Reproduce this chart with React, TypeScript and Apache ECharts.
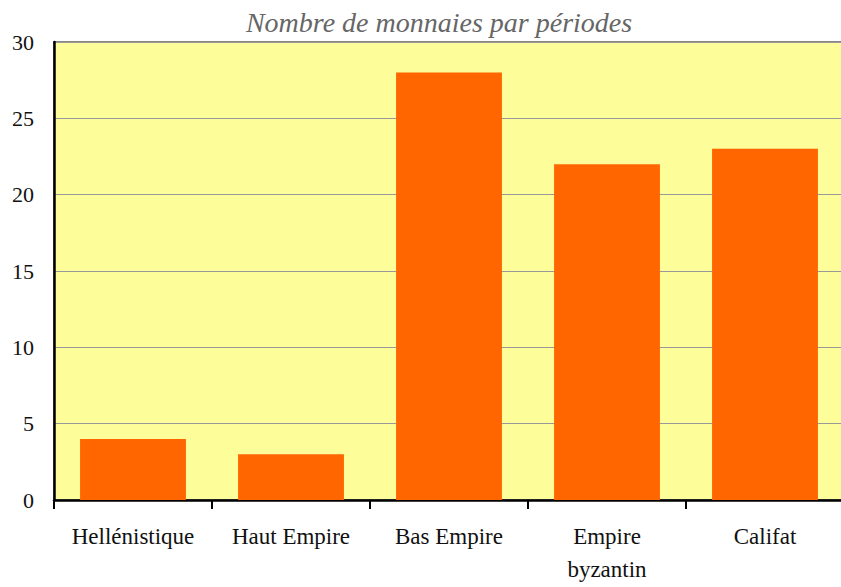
import React, { useEffect, useRef } from "react";
import * as echarts from "echarts";

const categories = ["Hellénistique", "Haut Empire", "Bas Empire", "Empire byzantin", "Califat"];
const values = [4, 3, 28, 22, 23];
const titleText = "Nombre de monnaies par périodes";

const FONT = "'Liberation Serif', 'DejaVu Serif', serif";

export default function App() {
  const ref = useRef<HTMLDivElement>(null);
  useEffect(() => {
    if (!ref.current) return;
    const chart = echarts.init(ref.current, null, { renderer: "svg" });
    chart.setOption({
      animation: false,
      title: {
        text: titleText,
        left: 434,
        top: 3,
        textAlign: "center",
        textStyle: {
          fontFamily: FONT,
          fontStyle: "italic",
          fontWeight: "normal",
          fontSize: 28,
          color: "#666666",
        },
      },
      grid: {
        left: 54,
        right: -3,
        top: 42,
        bottom: 87,
        outerBoundsMode: "none",
        containLabel: false,
        show: true,
        backgroundColor: "#FDFD99",
        borderColor: "#888888",
        borderWidth: 2,
      },
      xAxis: {
        type: "category",
        data: categories,
        axisLine: { show: true, lineStyle: { color: "#000000", width: 2.5 } },
        axisTick: { show: true, length: 9, lineStyle: { color: "#000000", width: 2 } },
        axisLabel: {
          fontFamily: FONT,
          fontSize: 23,
          color: "#111111",
          margin: 20,
          lineHeight: 33,
          interval: 0,
          formatter: (v: string) => (v === "Empire byzantin" ? "Empire\nbyzantin" : v),
        },
      },
      yAxis: {
        type: "value",
        min: 0,
        max: 30,
        interval: 5,
        axisLine: { show: true, lineStyle: { color: "#000000", width: 2.5 } },
        axisTick: { show: false },
        axisLabel: {
          fontFamily: FONT,
          fontSize: 22,
          color: "#111111",
          margin: 20,
        },
        splitLine: { show: true, lineStyle: { color: "#999999", width: 1 } },
      },
      series: [
        {
          type: "bar",
          data: values,
          barCategoryGap: "33%",
          itemStyle: { color: "#FF6600" },
        },
      ],
    });
    return () => chart.dispose();
  }, []);
  return <div ref={ref} style={{ width: 841, height: 587, position: "absolute", left: 0, top: 0 }} />;
}
